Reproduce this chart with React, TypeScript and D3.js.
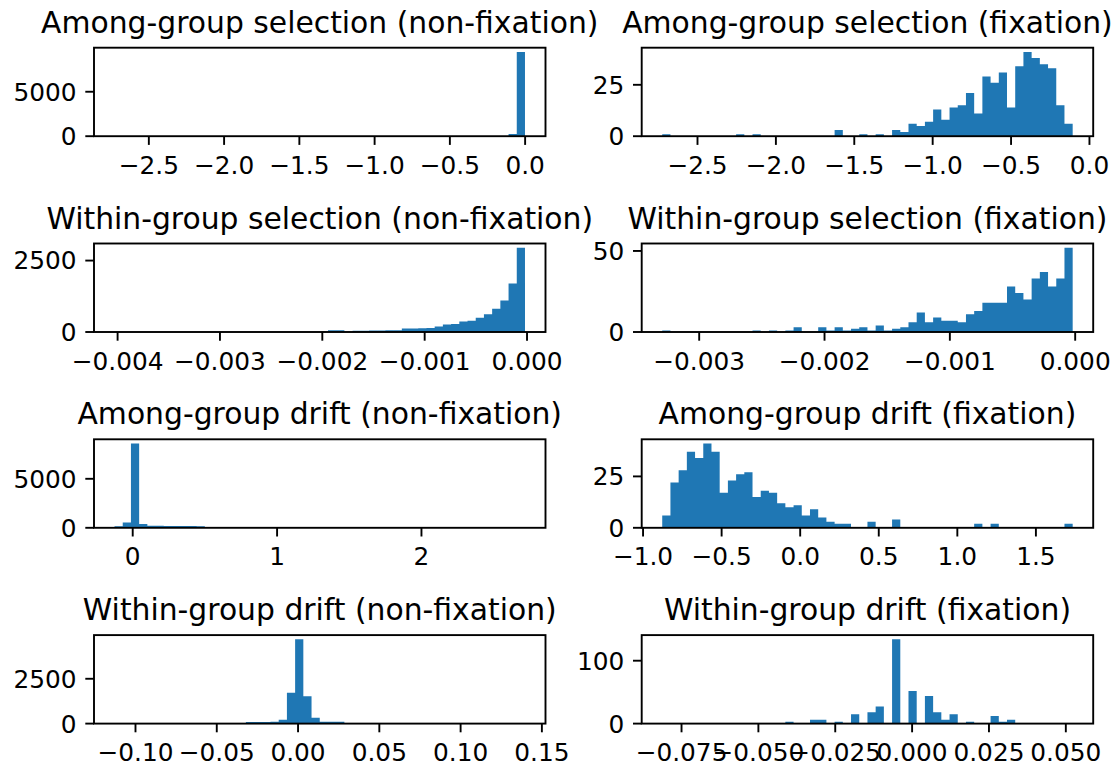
import React from "react";
import * as d3 from "d3";

// ---- data ----
const titles = [
  "Among-group selection (non-fixation)",
  "Among-group selection (fixation)",
  "Within-group selection (non-fixation)",
  "Within-group selection (fixation)",
  "Among-group drift (non-fixation)",
  "Among-group drift (fixation)",
  "Within-group drift (non-fixation)",
  "Within-group drift (fixation)",
];

// data range [min, max] of each histogram (50 bins each)
const amongSelNonFixRange = [-2.728, -0.001];
const amongSelFixRange = [-2.725, -0.107];
const withinSelNonFixRange = [-0.00403, -0.00002];
const withinSelFixRange = [-0.003295, -0.00002];
const amongDriftNonFixRange = [-0.126, 2.717];
const amongDriftFixRange = [-0.878, 1.734];
const withinDriftNonFixRange = [-0.1129, 0.1396];
const withinDriftFixRange = [-0.08128, 0.05223];

const amongSelNonFixCounts = [
  1, 0, 0, 0, 0, 0, 0, 0, 1, 0,
  0, 1, 0, 0, 0, 0, 0, 0, 0, 0,
  0, 2, 0, 0, 1, 0, 1, 0, 2, 1,
  2, 3, 3, 4, 5, 4, 6, 7, 8, 9,
  10, 11, 12, 14, 16, 18, 22, 35, 260, 9480,
];
const amongSelFixCounts = [
  1, 0, 0, 0, 0, 0, 0, 0, 0, 1,
  0, 1, 0, 0, 0, 0, 0, 0, 0, 0,
  0, 3, 0, 0, 1, 0, 1, 0, 3, 2,
  6, 5, 7, 13, 8, 14, 15, 21, 11, 29,
  26, 31, 14, 34, 41, 38, 35, 33, 15, 6,
];
const withinSelNonFixCounts = [
  2, 0, 0, 1, 0, 0, 1, 0, 0, 1,
  0, 1, 0, 2, 0, 1, 2, 0, 1, 3,
  2, 3, 1, 4, 3, 5, 65, 60, 10, 45,
  48, 52, 55, 58, 65, 120, 125, 130, 140, 190,
  260, 280, 370, 390, 500, 620, 810, 1100, 1700, 2950,
];
const withinSelFixCounts = [
  1, 0, 0, 0, 0, 0, 0, 0, 0, 0,
  0, 1, 0, 1, 0, 1, 3, 0, 0, 3,
  1, 3, 1, 2, 3, 1, 4, 1, 2, 3,
  6, 12, 6, 9, 7, 7, 6, 11, 13, 18,
  18, 18, 28, 24, 20, 33, 37, 28, 33, 52,
];
const amongDriftNonFixCounts = [
  170, 540, 8600, 400, 210, 200, 195, 190, 185, 180,
  170, 6, 4, 3, 3, 2, 2, 1, 1, 1,
  1, 1, 0, 1, 0, 0, 1, 0, 0, 0,
  1, 0, 0, 0, 0, 1, 0, 0, 0, 0,
  0, 0, 1, 0, 0, 0, 0, 0, 0, 1,
];
const amongDriftFixCounts = [
  6, 22, 28, 37, 34, 41, 37, 17, 23, 26,
  27, 15, 18, 17, 12, 10, 11, 6, 9, 5,
  3, 2, 2, 0, 0, 3, 0, 0, 4, 0,
  0, 0, 0, 0, 0, 0, 0, 0, 2, 0,
  2, 0, 0, 0, 0, 0, 0, 0, 0, 2,
];
const withinDriftNonFixCounts = [
  1, 0, 0, 0, 1, 0, 0, 1, 0, 1,
  1, 2, 1, 3, 2, 4, 85, 90, 95, 100,
  220, 1720, 4700, 1520, 330, 110, 105, 100, 5, 3,
  2, 3, 1, 1, 2, 0, 1, 0, 0, 1,
  0, 0, 1, 0, 0, 0, 0, 0, 0, 1,
];
const withinDriftFixCounts = [
  1, 0, 0, 0, 0, 0, 0, 0, 0, 0,
  0, 0, 0, 0, 0, 3, 0, 0, 6, 6,
  0, 3, 0, 15, 0, 18, 27, 0, 134, 0,
  52, 0, 44, 18, 6, 15, 0, 3, 0, 0,
  12, 3, 6, 0, 0, 0, 0, 0, 0, 1,
];

const xTicks = [
  [-2.5, -2.0, -1.5, -1.0, -0.5, 0.0],
  [-2.5, -2.0, -1.5, -1.0, -0.5, 0.0],
  [-0.004, -0.003, -0.002, -0.001, 0.0],
  [-0.003, -0.002, -0.001, 0.0],
  [0, 1, 2],
  [-1.0, -0.5, 0.0, 0.5, 1.0, 1.5],
  [-0.1, -0.05, 0.0, 0.05, 0.1, 0.15],
  [-0.075, -0.05, -0.025, 0.0, 0.025, 0.05],
];
const xTickDecimals = [1, 1, 3, 3, 0, 1, 2, 3];
const yTicks = [
  [0, 5000],
  [0, 25],
  [0, 2500],
  [0, 50],
  [0, 5000],
  [0, 25],
  [0, 2500],
  [0, 100],
];

const ranges = [
  amongSelNonFixRange, amongSelFixRange,
  withinSelNonFixRange, withinSelFixRange,
  amongDriftNonFixRange, amongDriftFixRange,
  withinDriftNonFixRange, withinDriftFixRange,
];
const counts = [
  amongSelNonFixCounts, amongSelFixCounts,
  withinSelNonFixCounts, withinSelFixCounts,
  amongDriftNonFixCounts, amongDriftFixCounts,
  withinDriftNonFixCounts, withinDriftFixCounts,
];

// ---- layout ----
const W = 1118;
const H = 765;
const colLeft = [94, 641.7];
const axW = 451.5;
const rowTop = [47.7, 243.5, 439.3, 635.1];
const axH = 88.5;
const tickLen = 8.7;
const lw = 1.9;
const tickFont = 24.8;
const titleFont = 29.8;
const barColor = "#1f77b4";
const FONT = "'DejaVu Sans', sans-serif";

function Panel({ idx }: { idx: number }) {
  const col = idx % 2;
  const row = Math.floor(idx / 2);
  const left = colLeft[col];
  const top = rowTop[row];
  const right = left + axW;
  const bottom = top + axH;
  const [mn, mx] = ranges[idx];
  const span = mx - mn;
  const c = counts[idx];
  const nb = c.length;
  const x = d3.scaleLinear().domain([mn - 0.05 * span, mx + 0.05 * span]).range([left, right]);
  const ymax = (d3.max(c) as number) * 1.05;
  const y = d3.scaleLinear().domain([0, ymax]).range([bottom, top]);
  const edges = d3.range(nb + 1).map((i) => mn + (i * span) / nb);
  const fmt = d3.format(`.${xTickDecimals[idx]}f`);
  const p = d3.path();
  c.forEach((v, i) => {
    if (v > 0) p.rect(x(edges[i]), y(v), x(edges[i + 1]) - x(edges[i]), bottom - y(v));
  });
  return (
    <g>
      <path d={p.toString()} fill={barColor} />
      <rect x={left} y={top} width={axW} height={axH} fill="none" stroke="#000" strokeWidth={lw} />
      {xTicks[idx].map((t, i) => (
        <g key={"x" + i}>
          <line x1={x(t)} x2={x(t)} y1={bottom} y2={bottom + tickLen} stroke="#000" strokeWidth={lw} />
          <text x={x(t)} y={bottom + 37.5} textAnchor="middle" fontSize={tickFont} fontFamily={FONT} fill="#000">
            {fmt(t)}
          </text>
        </g>
      ))}
      {yTicks[idx].map((t, i) => (
        <g key={"y" + i}>
          <line x1={left - tickLen} x2={left} y1={y(t)} y2={y(t)} stroke="#000" strokeWidth={lw} />
          <text x={left - 17.4} y={y(t)} dy="0.36em" textAnchor="end" fontSize={tickFont} fontFamily={FONT} fill="#000">
            {String(t)}
          </text>
        </g>
      ))}
      <text x={(left + right) / 2} y={top - 15} textAnchor="middle" fontSize={titleFont} fontFamily={FONT} fill="#000">
        {titles[idx]}
      </text>
    </g>
  );
}

export default function App() {
  return (
    <div style={{ position: "absolute", left: 0, top: 0 }}>
      <svg width={W} height={H} viewBox={`0 0 ${W} ${H}`} style={{ display: "block", background: "#fff" }}>
        <rect width={W} height={H} fill="#fff" />
        {titles.map((_, i) => (
          <Panel key={i} idx={i} />
        ))}
      </svg>
    </div>
  );
}
